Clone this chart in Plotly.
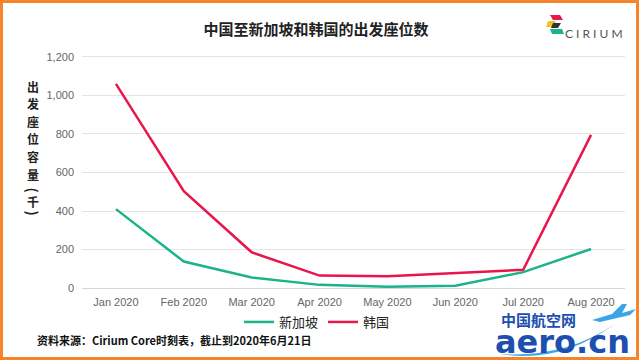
import plotly.graph_objects as go

months = ["Jan 2020", "Feb 2020", "Mar 2020", "Apr 2020", "May 2020", "Jun 2020", "Jul 2020", "Aug 2020"]
singapore = [410, 138, 55, 17, 7, 13, 83, 203]
korea = [1060, 503, 186, 65, 62, 78, 95, 795]
y_ticks = [0, 200, 400, 600, 800, 1000, 1200]
y_title_chars = ["出", "发", "座", "位", "容", "量"]

W, H = 640, 361
L, R, T, B = 82, 15, 53, 69
PW, PH = W - L - R, H - T - B


def px(x):
    return (x - L) / PW


def py(y):
    return (H - B - y) / PH


CJK = "Noto Sans CJK SC, sans-serif"
LAT = "Liberation Sans, Arial, Noto Sans CJK SC, sans-serif"

fig = go.Figure()
fig.add_trace(go.Scatter(x=months, y=singapore, mode="lines", name="新加坡",
                         line=dict(color="#1bb38a", width=2.5)))
fig.add_trace(go.Scatter(x=months, y=korea, mode="lines", name="韩国",
                         line=dict(color="#e8164b", width=2.5)))

fig.update_layout(
    width=W, height=H,
    margin=dict(l=L, r=R, t=T, b=B, autoexpand=False),
    paper_bgcolor="white", plot_bgcolor="white",
    title=dict(text="<b>中国至新加坡和韩国的出发座位数</b>", x=316 / W, xanchor="center",
               y=1 - 30 / H, yanchor="middle",
               font=dict(family=CJK, size=15, color="#222")),
    xaxis=dict(range=[-0.5, 7.5], showgrid=False, showline=False, zeroline=False, ticks="",
               tickfont=dict(family=LAT, size=11, color="#666"), ticklabelstandoff=2),
    yaxis=dict(range=[-20, 1220], tickvals=y_ticks, tickformat=",",
               showgrid=True, gridcolor="#e4e4e4", gridwidth=1,
               zeroline=True, zerolinecolor="#d6d6d6", zerolinewidth=1,
               showline=False, ticks="", ticklabelstandoff=7,
               tickfont=dict(family=LAT, size=11, color="#666")),
    legend=dict(orientation="h", x=px(317), xanchor="center", y=py(322), yanchor="middle",
                font=dict(family=CJK, size=13, color="#222"), itemwidth=30,
                bgcolor="rgba(0,0,0,0)"),
    showlegend=True,
)

annotations = []
for i, ch in enumerate(y_title_chars):
    annotations.append(dict(text=f"<b>{ch}</b>", x=px(33), y=py(86 + 17.6 * i), xref="paper", yref="paper",
                            showarrow=False, font=dict(family=CJK, size=12, color="#222"),
                            xanchor="center", yanchor="middle"))
annotations += [
    dict(text="<b>(</b>", x=px(33), y=py(189.5), xref="paper", yref="paper", textangle=90,
         showarrow=False, font=dict(family=CJK, size=14, color="#222"), xanchor="center", yanchor="middle"),
    dict(text="<b>千</b>", x=px(33), y=py(201), xref="paper", yref="paper",
         showarrow=False, font=dict(family=CJK, size=12, color="#222"), xanchor="center", yanchor="middle"),
    dict(text="<b>)</b>", x=px(33), y=py(212.5), xref="paper", yref="paper", textangle=90,
         showarrow=False, font=dict(family=CJK, size=14, color="#222"), xanchor="center", yanchor="middle"),
    dict(text="<b>资料来源：Cirium Core时刻表，截止到2020年6月21日</b>", x=px(35), y=py(340), xref="paper", yref="paper",
         showarrow=False, font=dict(family=CJK, size=11, color="#111"), xanchor="left", yanchor="middle"),
    dict(text="C I R I U M", x=px(594), y=py(33), xref="paper", yref="paper",
         showarrow=False, font=dict(family="Lato, sans-serif", size=12, color="#555"), xanchor="center", yanchor="middle"),
    dict(text="<b>中国航空网</b>", x=px(538), y=py(319), xref="paper", yref="paper",
         showarrow=False, font=dict(family=CJK, size=15, color="#1c4fb0"), xanchor="center", yanchor="middle"),
    dict(text="<b>aero.cn</b>", x=px(562), y=py(342), xref="paper", yref="paper",
         showarrow=False, font=dict(family="DejaVu Sans, sans-serif", size=32, color="#1c4fb0"), xanchor="center", yanchor="middle"),
]
fig.update_layout(annotations=annotations)


def poly(points, color):
    d = "M " + " L ".join(f"{px(x)},{py(y)}" for x, y in points) + " Z"
    return dict(type="path", path=d, xref="paper", yref="paper", fillcolor=color, line=dict(width=0))


swoosh = (f"M {px(500)},{py(354)} Q {px(560)},{py(364)} {px(615)},{py(324)} "
          f"Q {px(565)},{py(358)} {px(500)},{py(354)} Z")

shapes = [
    dict(type="rect", xref="paper", yref="paper", x0=px(1.5), x1=px(637.5), y0=py(1.5), y1=py(358.5),
         line=dict(color="#f5842c", width=3), fillcolor="rgba(0,0,0,0)"),
    poly([(550, 15), (560, 15), (563, 20), (553, 20)], "#e8164b"),
    poly([(548, 21), (556, 21), (553, 27), (546, 27)], "#f3c324"),
    poly([(553, 23), (561, 23), (558, 28), (551, 28)], "#333333"),
    poly([(550, 29), (562, 29), (564, 34), (552, 34)], "#1bb38a"),
    dict(type="path", path=swoosh, xref="paper", yref="paper", fillcolor="#3aa6e8", line=dict(width=0)),
    poly([(592, 320), (612, 314), (622, 304), (627, 304), (622, 313), (636, 309), (630, 315), (600, 322)], "#3aa6e8"),
]
fig.update_layout(shapes=shapes)

fig.write_html("out.html", config={"displayModeBar": False},
               post_script="document.body.style.margin='0';document.body.style.overflow='hidden';")
